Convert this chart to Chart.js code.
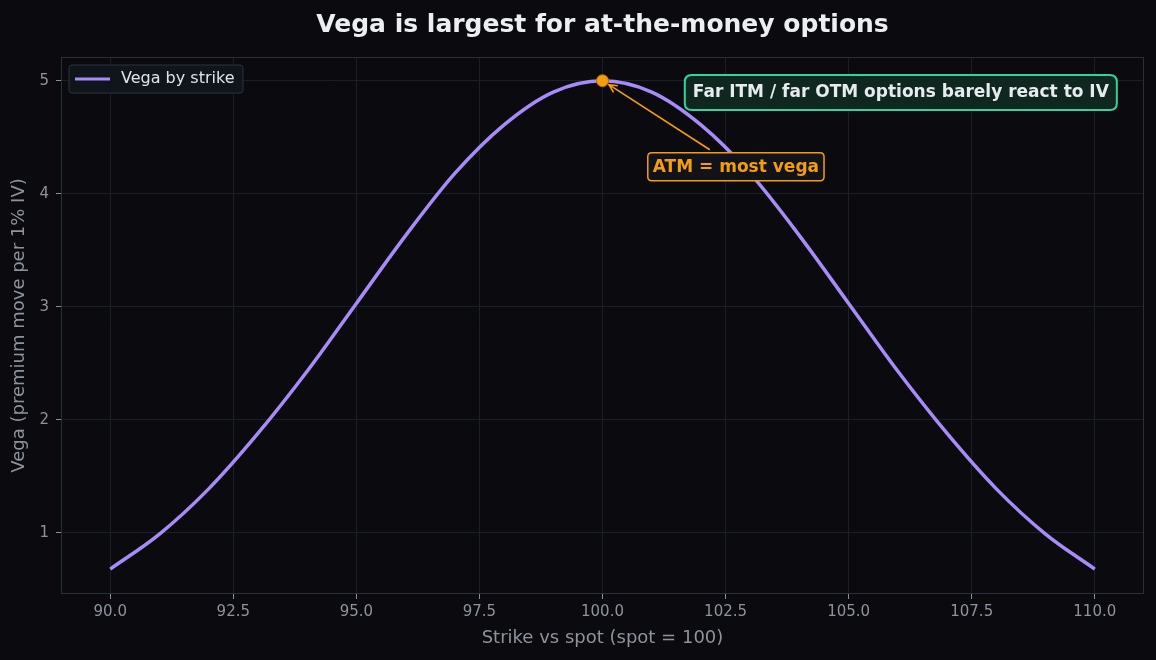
<!DOCTYPE html>
<html>
<head>
<meta charset="utf-8">
<script src="https://cdn.jsdelivr.net/npm/chart.js@4.4.1/dist/chart.umd.min.js"></script>
<style>
  html, body { margin: 0; padding: 0; background: #0b0b0f; }
  #wrap { width: 1156px; height: 660px; }
</style>
</head>
<body>
<div id="wrap"><canvas id="chartVega" width="1156" height="660"></canvas></div>
<script>
// dados
const strikes = [90, 91, 92, 93, 94, 95, 96, 97, 98, 99, 100, 101, 102, 103, 104, 105, 106, 107, 108, 109, 110];
const vega = [0.68, 0.99, 1.39, 1.88, 2.43, 3.03, 3.63, 4.18, 4.61, 4.90, 5.00, 4.90, 4.61, 4.18, 3.63, 3.03, 2.43, 1.88, 1.39, 0.99, 0.68];
const xTicks = [90, 92.5, 95, 97.5, 100, 102.5, 105, 107.5, 110];
const yTicks = [1, 2, 3, 4, 5];
const atmPoint = { x: 100, y: 5 };

const FONT = "'DejaVu Sans', sans-serif";

const roundRect = (ctx, x, y, w, h, r) => {
    ctx.beginPath();
    ctx.moveTo(x + r, y);
    ctx.lineTo(x + w - r, y);
    ctx.quadraticCurveTo(x + w, y, x + w, y + r);
    ctx.lineTo(x + w, y + h - r);
    ctx.quadraticCurveTo(x + w, y + h, x + w - r, y + h);
    ctx.lineTo(x + r, y + h);
    ctx.quadraticCurveTo(x, y + h, x, y + h - r);
    ctx.lineTo(x, y + r);
    ctx.quadraticCurveTo(x, y, x + r, y);
    ctx.closePath();
};

const decoracao = {
    id: 'decoracao',
    beforeDraw(chart) {
        const ctx = chart.ctx;
        ctx.save();
        ctx.fillStyle = '#0b0b0f';
        ctx.fillRect(0, 0, chart.width, chart.height);
        ctx.restore();
    },
    afterDatasetsDraw(chart) {
        const { ctx, chartArea: a, scales: { x, y } } = chart;
        ctx.save();

        // moldura
        ctx.strokeStyle = '#28303a';
        ctx.lineWidth = 1;
        ctx.strokeRect(a.left + 0.5, a.top + 0.5, a.right - a.left - 1, a.bottom - a.top - 1);

        // título
        ctx.fillStyle = '#eceef1';
        ctx.font = 'bold 25px ' + FONT;
        ctx.textAlign = 'center';
        ctx.textBaseline = 'middle';
        ctx.fillText('Vega is largest for at-the-money options', (a.left + a.right) / 2, 25);

        // legenda
        roundRect(ctx, a.left + 8, a.top + 8, 174, 28, 3);
        ctx.fillStyle = '#10141b';
        ctx.fill();
        ctx.strokeStyle = '#2a323c';
        ctx.stroke();
        ctx.strokeStyle = '#a78bfa';
        ctx.lineWidth = 3;
        ctx.beginPath();
        ctx.moveTo(a.left + 14, a.top + 22);
        ctx.lineTo(a.left + 49, a.top + 22);
        ctx.stroke();
        ctx.fillStyle = '#e2e4e8';
        ctx.font = '16px ' + FONT;
        ctx.textAlign = 'left';
        ctx.fillText('Vega by strike', a.left + 60, a.top + 22);

        // seta ATM
        const tx = x.getPixelForValue(102.18), ty = y.getPixelForValue(4.39);
        const hx = x.getPixelForValue(100.13), hy = y.getPixelForValue(4.965);
        ctx.strokeStyle = '#f59e0b';
        ctx.lineWidth = 1.6;
        ctx.beginPath();
        ctx.moveTo(tx, ty);
        ctx.lineTo(hx, hy);
        const ang = Math.atan2(hy - ty, hx - tx);
        ctx.moveTo(hx - 9 * Math.cos(ang - 0.45), hy - 9 * Math.sin(ang - 0.45));
        ctx.lineTo(hx, hy);
        ctx.lineTo(hx - 9 * Math.cos(ang + 0.45), hy - 9 * Math.sin(ang + 0.45));
        ctx.stroke();

        // caixa ATM
        ctx.font = 'bold 17px ' + FONT;
        const lx = x.getPixelForValue(102.71), ly = y.getPixelForValue(4.24);
        const lw = ctx.measureText('ATM = most vega').width + 10;
        roundRect(ctx, lx - lw / 2, ly - 14, lw, 28, 4);
        ctx.fillStyle = '#111318';
        ctx.fill();
        ctx.strokeStyle = '#f59e0b';
        ctx.lineWidth = 1.5;
        ctx.stroke();
        ctx.fillStyle = '#f59e0b';
        ctx.textAlign = 'center';
        ctx.fillText('ATM = most vega', lx, ly + 1);

        // caixa verde
        const gx = x.getPixelForValue(106.06), gy = y.getPixelForValue(4.90);
        const gw = ctx.measureText('Far ITM / far OTM options barely react to IV').width + 16;
        roundRect(ctx, gx - gw / 2, gy - 17, gw, 35, 7);
        ctx.fillStyle = '#10271f';
        ctx.fill();
        ctx.strokeStyle = '#34d399';
        ctx.lineWidth = 2;
        ctx.stroke();
        ctx.fillStyle = '#e6ebef';
        ctx.fillText('Far ITM / far OTM options barely react to IV', gx, gy + 1);

        ctx.restore();
    }
};

new Chart(document.getElementById('chartVega').getContext('2d'), {
    type: 'line',
    data: {
        datasets: [
            {
                type: 'scatter',
                label: 'ATM',
                data: [atmPoint],
                pointRadius: 6,
                pointBackgroundColor: '#f59e0b',
                pointBorderColor: '#b86e00',
                pointBorderWidth: 1
            },
            {
                label: 'Vega by strike',
                data: strikes.map((s, i) => ({ x: s, y: vega[i] })),
                borderColor: '#a78bfa',
                borderWidth: 3.5,
                pointRadius: 0,
                fill: false,
                cubicInterpolationMode: 'monotone'
            }
        ]
    },
    options: {
        responsive: false,
        devicePixelRatio: 1,
        animation: false,
        layout: { padding: { top: 57, right: 12, left: 0, bottom: 0 } },
        plugins: {
            legend: { display: false },
            title: { display: false },
            tooltip: { enabled: false }
        },
        scales: {
            x: {
                type: 'linear',
                min: 89,
                max: 111,
                afterBuildTicks: (axis) => { axis.ticks = xTicks.map(v => ({ value: v })); },
                afterFit: (axis) => { axis.height = 66; },
                grid: { color: '#1a2028', tickColor: '#8a9099', tickLength: 5 },
                border: { display: false },
                ticks: {
                    color: '#8d939c',
                    font: { family: FONT, size: 15 },
                    padding: 4,
                    maxRotation: 0,
                    callback: (v) => Number(v).toFixed(1)
                },
                title: {
                    display: true,
                    text: 'Strike vs spot (spot = 100)',
                    color: '#8d939c',
                    font: { family: FONT, size: 18 },
                    padding: { top: 0, bottom: 11 }
                }
            },
            y: {
                min: 0.46,
                max: 5.21,
                afterBuildTicks: (axis) => { axis.ticks = yTicks.map(v => ({ value: v })); },
                afterFit: (axis) => { axis.width = 61; },
                grid: { color: '#1a2028', tickColor: '#8a9099', tickLength: 5 },
                border: { display: false },
                ticks: {
                    color: '#8d939c',
                    font: { family: FONT, size: 15 },
                    padding: 7
                },
                title: {
                    display: true,
                    text: 'Vega (premium move per 1% IV)',
                    color: '#8d939c',
                    font: { family: FONT, size: 18 },
                    padding: { top: 9, bottom: 0 }
                }
            }
        }
    },
    plugins: [decoracao]
});
</script>
</body>
</html>
